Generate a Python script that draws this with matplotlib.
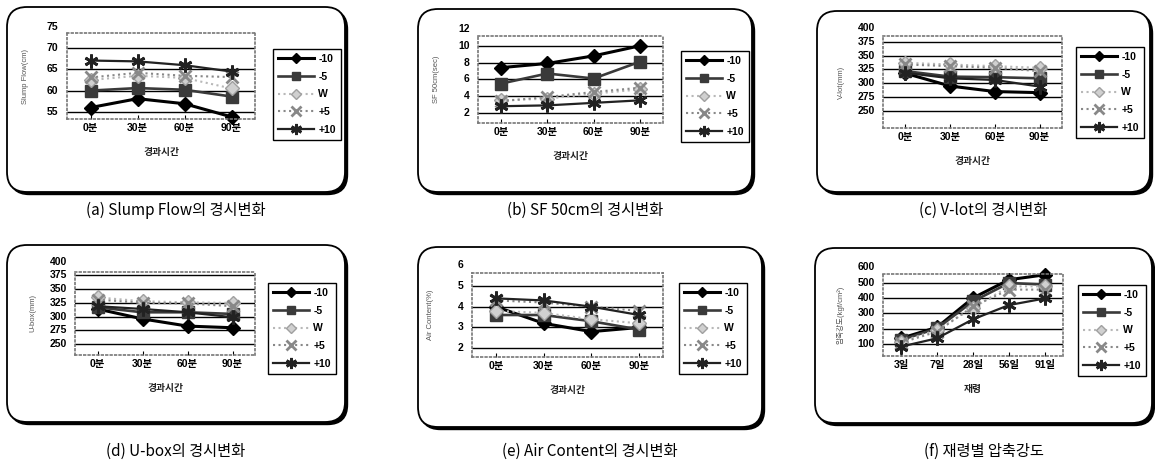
import matplotlib
matplotlib.use("Agg")
import matplotlib.pyplot as plt
from matplotlib.patches import FancyBboxPatch

plt.rcParams['font.family'] = ['Liberation Sans', 'Noto Sans CJK KR', 'DejaVu Sans']

# ---------------- data ----------------
series_labels = ['-10', '-5', 'W', '+5', '+10']
time_cats = ['0분', '30분', '60분', '90분']
age_cats = ['3일', '7일', '28일', '56일', '91일']

slump_m10 = [56.0, 58.1, 56.9, 53.8]
slump_m5 = [60.0, 60.6, 60.2, 58.6]
slump_w = [62.5, 63.5, 63.0, 60.5]
slump_p5 = [63.1, 64.2, 63.5, 63.2]
slump_p10 = [67.1, 66.9, 66.0, 64.5]

sf_m10 = [7.4, 7.9, 8.8, 10.0]
sf_m5 = [5.5, 6.7, 6.1, 8.1]
sf_w = [3.5, 3.7, 4.3, 4.8]
sf_p5 = [3.4, 3.9, 4.5, 5.0]
sf_p10 = [2.8, 2.9, 3.2, 3.5]

vlot_m10 = [318, 295, 285, 283]
vlot_m5 = [322, 312, 311, 309]
vlot_w = [337, 334, 331, 328]
vlot_p5 = [334, 331, 328, 322]
vlot_p10 = [319, 309, 306, 294]

ubox_m10 = [314, 296, 283, 280]
ubox_m5 = [317, 308, 308, 305]
ubox_w = [335, 328, 326, 325]
ubox_p5 = [331, 325, 324, 319]
ubox_p10 = [319, 314, 308, 299]

air_m10 = [4.0, 3.2, 2.8, 3.0]
air_m5 = [3.6, 3.6, 3.3, 2.9]
air_w = [3.8, 3.7, 3.4, 3.2]
air_p5 = [4.3, 4.2, 4.0, 3.8]
air_p10 = [4.4, 4.3, 4.0, 3.6]

comp_m10 = [139, 210, 400, 518, 550]
comp_m5 = [128, 203, 378, 497, 486]
comp_w = [117, 193, 335, 475, 475]
comp_p5 = [110, 182, 345, 454, 454]
comp_p10 = [85, 139, 262, 354, 397]

y_ticks_a = [55, 60, 65, 70, 75]
y_ticks_b = [2, 4, 6, 8, 10, 12]
y_ticks_c = [250, 275, 300, 325, 350, 375, 400]
y_ticks_e = [2, 3, 4, 5, 6]
y_ticks_f = [100, 200, 300, 400, 500, 600]

captions = ['(a) Slump Flow의 경시변화', '(b) SF 50cm의 경시변화', '(c) V-lot의 경시변화',
            '(d) U-box의 경시변화', '(e) Air Content의 경시변화', '(f) 재령별 압축강도']
ylabels = ['Slump Flow(cm)', 'SF 50cm(sec)', 'V-lot(mm)', 'U-box(mm)',
           'Air Content(%)', '압축강도(kgf/cm²)']
xlabels = ['경과시간', '경과시간', '경과시간', '경과시간', '경과시간', '재령']

# ---------------- layout (pixels) ----------------
W, H = 1155, 468
fig = plt.figure(figsize=(W / 100, H / 100), dpi=100)

styles = [
    dict(color='black', lw=2.2, ls='-', marker='D', ms=7, mfc='black', mec='black', mew=1),
    dict(color='#3a3a3a', lw=1.9, ls='-', marker='s', ms=8, mfc='#3a3a3a', mec='#3a3a3a', mew=1),
    dict(color='#b8b8b8', lw=1.5, ls=':', marker='D', ms=7, mfc='#d0d0d0', mec='#a0a0a0', mew=1),
    dict(color='#888888', lw=1.5, ls=':', marker='x', ms=9, mfc='none', mec='#888888', mew=2),
    dict(color='#222222', lw=1.6, ls='-', marker=(6, 2, 0), ms=10, mfc='#222222', mec='#222222', mew=2),
]

panels = [
    dict(box=(7, 7, 345, 192), plot=(67, 33, 255, 119), leg=(273, 49), ylim=(53.3, 73.6),
         ticks=y_ticks_a, cats=time_cats, data=[slump_m10, slump_m5, slump_w, slump_p5, slump_p10]),
    dict(box=(418, 9, 752, 192), plot=(478, 36, 663, 123), leg=(681, 51), ylim=(0.8, 11.17),
         ticks=y_ticks_b, cats=time_cats, data=[sf_m10, sf_m5, sf_w, sf_p5, sf_p10]),
    dict(box=(817, 11, 1150, 192), plot=(883, 36, 1062, 128), leg=(1076, 47), ylim=(219, 385.6),
         ticks=y_ticks_c, cats=time_cats, data=[vlot_m10, vlot_m5, vlot_w, vlot_p5, vlot_p10]),
    dict(box=(7, 245, 345, 422), plot=(75, 272, 255, 355), leg=(268, 283), ylim=(230.6, 381),
         ticks=y_ticks_c, cats=time_cats, data=[ubox_m10, ubox_m5, ubox_w, ubox_p5, ubox_p10]),
    dict(box=(418, 247, 762, 427), plot=(472, 273, 663, 357), leg=(679, 283), ylim=(1.58, 5.62),
         ticks=y_ticks_e, cats=time_cats, data=[air_m10, air_m5, air_w, air_p5, air_p10]),
    dict(box=(815, 248, 1152, 423), plot=(883, 274, 1063, 356), leg=(1078, 285), ylim=(24.5, 555),
         ticks=y_ticks_f, cats=age_cats, data=[comp_m10, comp_m5, comp_w, comp_p5, comp_p10]),
]
caption_y = [210, 210, 210, 451, 451, 451]

for i, p in enumerate(panels):
    bx0, by0, bx1, by1 = p['box']
    # shadow + rounded frame (in inches)
    for off, fc, ec, lw, z in [((2.5, 2.5), 'black', 'black', 1.0, -3), ((0, 0), 'white', 'black', 1.3, -2)]:
        patch = FancyBboxPatch(((bx0 + off[0]) / 100, (H - by1 - off[1]) / 100),
                               (bx1 - bx0) / 100, (by1 - by0) / 100,
                               boxstyle="round,pad=0,rounding_size=0.2",
                               transform=fig.dpi_scale_trans, facecolor=fc, edgecolor=ec,
                               lw=lw, zorder=z)
        fig.add_artist(patch)

    px0, py0, px1, py1 = p['plot']
    ax = fig.add_axes([px0 / W, 1 - py1 / H, (px1 - px0) / W, (py1 - py0) / H])
    x = list(range(len(p['cats'])))
    for vals, lab, st in zip(p['data'], series_labels, styles):
        ax.plot(x, vals, label=lab, clip_on=False, **st)
    ax.set_xlim(-0.5, len(x) - 0.5)
    ax.set_ylim(*p['ylim'])
    inr = [t for t in p['ticks'] if p['ylim'][0] <= t <= p['ylim'][1]]
    ax.set_yticks(inr)
    ax.set_yticklabels([])
    ax.tick_params(axis='y', length=0)
    for t in p['ticks']:
        ax.text(-0.045, t, str(t), transform=ax.get_yaxis_transform(), ha='right', va='center',
                fontsize=7.5, fontweight='bold', clip_on=False)
    ax.set_xticks(x)
    ax.set_xticklabels(p['cats'], fontsize=7.5, fontweight='bold')
    ax.tick_params(axis='x', length=3, pad=3, direction='in')
    ax.grid(axis='y', color='black', lw=1)
    ax.set_axisbelow(True)
    for s in ax.spines.values():
        s.set_color('#777777')
        s.set_linestyle(':')
        s.set_linewidth(1.2)
    ax.set_xlabel(xlabels[i], fontsize=7, fontweight='bold', labelpad=10, color='#222222')
    ax.set_ylabel(ylabels[i], fontsize=5.5, color='#555555', labelpad=24)

    lx, ly = p['leg']
    leg = ax.legend(loc='upper left', bbox_to_anchor=(lx / W, 1 - ly / H),
                    bbox_transform=fig.transFigure, borderaxespad=0, frameon=True,
                    fancybox=False, edgecolor='black', framealpha=1, markerscale=0.8,
                    handlelength=3.5, handletextpad=0.4, labelspacing=0.75, borderpad=0.45,
                    prop=dict(size=7.5, weight='bold'))
    leg.get_frame().set_linewidth(1.0)

    fig.text((bx0 + bx1) / 2 / W, 1 - caption_y[i] / H, captions[i], ha='center', va='center',
             fontsize=11, family=['Noto Sans CJK KR', 'DejaVu Sans'])

fig.savefig('out.png', dpi=100, facecolor='white')
